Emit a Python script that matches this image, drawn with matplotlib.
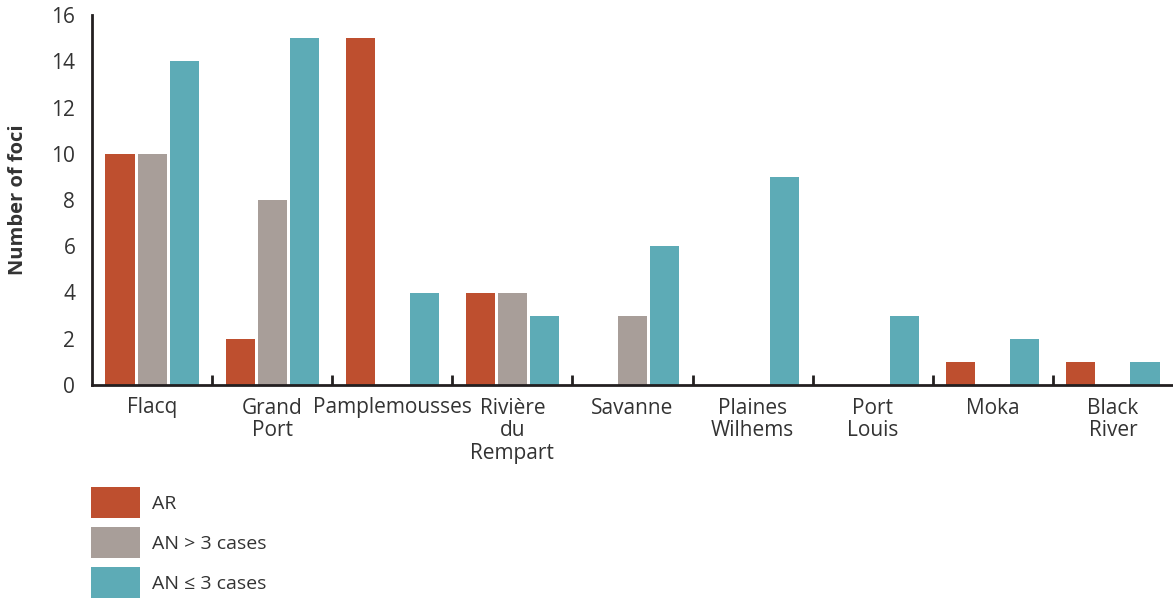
import matplotlib.pyplot as plt
import numpy as np
from matplotlib.patches import Patch

plt.rcParams['font.family'] = ['Open Sans', 'DejaVu Sans']

districts = ['Flacq', 'Grand\nPort', 'Pamplemousses', 'Rivière\ndu\nRempart', 'Savanne',
             'Plaines\nWilhems', 'Port\nLouis', 'Moka', 'Black\nRiver']
ar = [10, 2, 15, 4, 0, 0, 0, 1, 1]
an_gt3 = [10, 8, 0, 4, 3, 0, 0, 0, 0]
an_le3 = [14, 15, 4, 3, 6, 9, 3, 2, 1]

labels = ['AR', 'AN > 3 cases', 'AN ≤ 3 cases']
colors = ['#BE4F2F', '#A89E99', '#5DABB6']
text_col = '#333333'
axis_col = '#231F20'

fig = plt.figure(figsize=(11.73, 5.98), dpi=100)
ax = fig.add_axes([92 / 1173, 1 - 385 / 598, 1 - 92 / 1173, 370 / 598])

x = np.arange(len(districts))
w = 0.242
step = 0.267
for i, vals in enumerate([ar, an_gt3, an_le3]):
    ax.bar(x + (i - 1) * step, vals, width=w, color=colors[i], zorder=2)

ax.set_xlim(-0.5, len(districts) - 0.5)
ax.set_ylim(0, 16)
ax.set_yticks(range(0, 17, 2))
ax.set_xticks(x)
ax.set_xticklabels(districts, fontsize=15, color=text_col, linespacing=1.1,
                   va='top', ha='center')
ax.set_xticks(np.arange(0.5, len(districts) - 1, 1), minor=True)
ax.tick_params(axis='x', which='major', length=0, pad=9)
ax.tick_params(axis='x', which='minor', direction='in', length=7, width=2, color=axis_col)
ax.tick_params(axis='y', length=0, pad=12, labelsize=15, labelcolor=text_col)

for s in ['top', 'right']:
    ax.spines[s].set_visible(False)
for s in ['left', 'bottom']:
    ax.spines[s].set_linewidth(2)
    ax.spines[s].set_color(axis_col)

# y label placed by hand so it stays inside the figure
fig.text(18 / 1173, 1 - 200 / 598, 'Number of foci', rotation=90, ha='center', va='center',
         fontsize=14.5, fontweight='bold', color=text_col)

handles = [Patch(facecolor=c) for c in colors]
fig.legend(handles, labels, loc='upper left', bbox_to_anchor=(91 / 1173, 1 - 487 / 598),
           frameon=False, borderpad=0, borderaxespad=0, fontsize=14,
           handlelength=2.5, handleheight=2.08, labelspacing=0.46, handletextpad=0.65,
           labelcolor=text_col)

plt.savefig('out.png', dpi=100)
plt.close()
